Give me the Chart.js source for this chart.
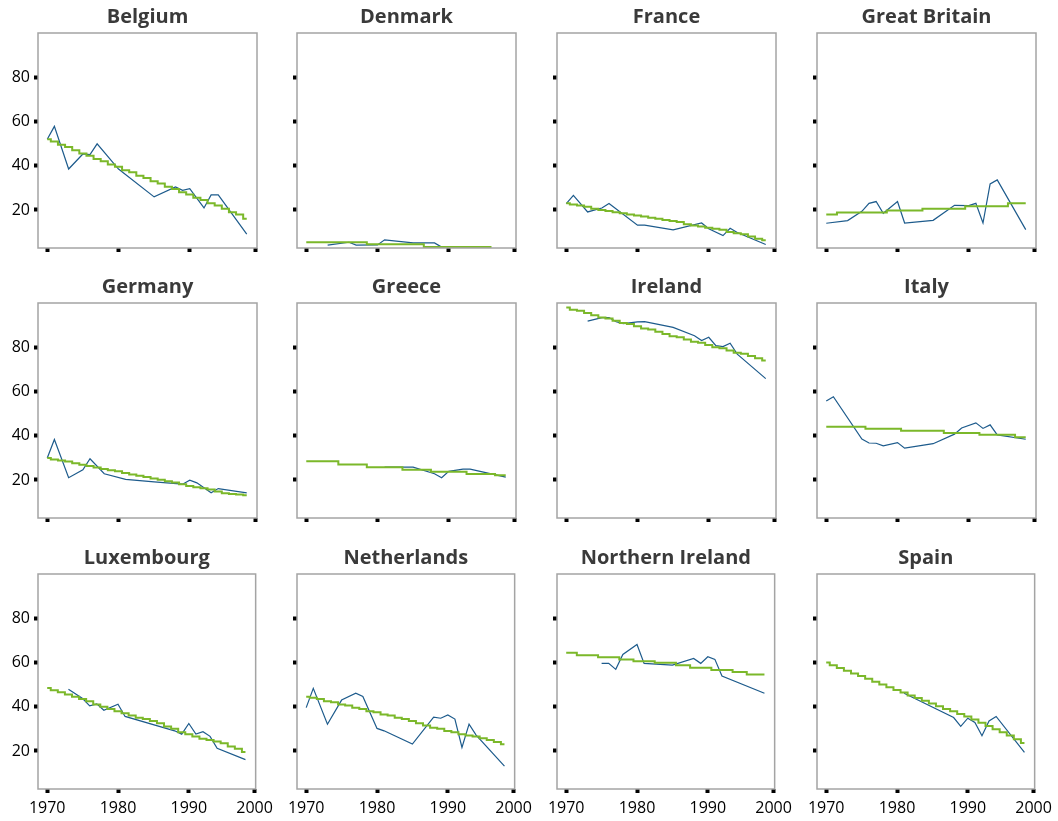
<!DOCTYPE html>
<html lang="en">
<head>
    <meta charset="UTF-8">
    <title>Small multiples by country, 1970-1998</title>
    <script src="https://cdn.jsdelivr.net/npm/chart.js"></script>
    <style>
        html, body {
            margin: 0;
            padding: 0;
            background: #fff;
        }
        #grid {
            position: relative;
            width: 1058px;
            height: 821px;
        }
        #grid canvas {
            position: absolute;
        }
    </style>
</head>
<body>
    <div id="grid"></div>

    <script>
        // survey years shared by all panels
        const years = [1970, 1971, 1972, 1973, 1974, 1975, 1976, 1977, 1978, 1979,
                       1980, 1981, 1982, 1983, 1984, 1985, 1986, 1987, 1988, 1989,
                       1990, 1991, 1992, 1993, 1994, 1995, 1996, 1997, 1998];

        const xTickYears = [1970, 1980, 1990, 2000];
        const xTickLabels = ['1970', '1980', '1990', '2000'];
        const yTickValues = [20, 40, 60, 80];

        const panelNames = ['Belgium', 'Denmark', 'France', 'Great Britain',
                            'Germany', 'Greece', 'Ireland', 'Italy',
                            'Luxembourg', 'Netherlands', 'Northern Ireland', 'Spain'];

        // observed values (blue), null = no survey that year
        const belgiumObs = [52, 57.8, null, 38.5, null, 45.3, 45, 49.9, null, null, 38.5, null, null, null, null, 25.9, null, null, 30.4, 28.9, 29.6, null, 20.9, 26.8, 26.8, null, null, null, 9.1];
        const denmarkObs = [null, null, null, 4.1, null, null, 5.4, 4.1, null, null, 4.2, 6.5, null, null, null, 5.1, null, null, 5.1, 3.2, 3, null, 2.5, 3.3, 3, null, null, null, null];
        const franceObs = [22.9, 26.6, null, 19.1, null, 20.9, 22.9, null, null, null, 13.1, 13.1, null, null, null, 11, null, null, null, 14.1, 11.5, null, 8.4, 11.7, 9.8, null, null, null, 4.4];
        const britainObs = [14, null, null, 15.2, null, 19.4, 23, 23.8, 18.5, null, 23.8, 14.1, null, null, null, 15.3, null, null, 22.1, null, 22, 23, 14.1, 31.8, 33.6, null, null, null, 11.1];
        const germanyObs = [29.9, 38.3, null, 21, null, 24.6, 29.6, null, 22.8, null, null, 20.3, null, null, null, 19.1, null, null, null, 18.1, 19.9, 18.7, null, 14.2, 16.1, null, null, null, 14.2];
        const greeceObs = [null, null, null, null, null, null, null, null, null, null, null, 25.8, null, null, null, 25.8, null, null, 22.8, 21, 23.9, null, 24.9, 24.9, null, null, null, null, 21.3];
        const irelandObs = [null, null, null, 91.8, null, 93.4, 93.4, 91.5, 90.7, null, 91.5, 91.6, null, null, null, 89, null, null, 85.2, 83, 84.5, 80.7, 80.3, 81.8, 76.9, null, null, null, 65.8];
        const italyObs = [55.7, 57.6, null, null, null, 38.5, 36.7, 36.6, 35.4, null, 36.9, 34.4, null, null, null, 36.4, null, null, 40.7, 43.5, null, 45.8, 43.3, 44.9, 40.4, null, null, null, 38.4];
        const luxembourgObs = [null, null, null, 47.9, null, 43.7, 40.4, 41.3, 38.4, null, 41.1, 35.6, null, null, null, null, null, null, 29.1, 27.6, 32.4, 27.6, 28.7, 26.6, 21.2, null, null, null, 16.1];
        const netherlandsObs = [39.6, 48.3, null, 32.1, null, 43, null, 46.1, 44.6, null, 30.2, 29.1, null, null, null, 23.1, null, null, 35.3, 34.8, 36.3, 34.4, 21.6, 32.1, 27.2, null, null, null, 13.1];
        const nIrelandObs = [null, null, null, null, null, 59.6, 59.6, 56.9, 63.6, null, 68.1, 59.6, null, null, null, 58.8, null, null, 61.8, 59.6, 62.6, 61.4, 53.9, null, null, null, null, null, 46.1];
        const spainObs = [null, null, null, null, null, null, null, null, null, null, null, 46.1, null, null, null, null, null, null, 35.1, 31.1, 34.8, 32.9, 26.9, 33.6, 35.6, null, null, null, 19.4];

        // fitted trend (green step line)
        const belgiumTrend = [52, 51, 49.5, 48.5, 47, 45.5, 44.5, 43, 42, 40.5, 39.5, 38, 37, 35.5, 34.5, 33, 32, 30.5, 29.5, 28, 27, 25.5, 24.5, 23, 22, 20.5, 19, 18, 16];
        const denmarkTrend = [5.4, 5.4, 5.4, 5.4, 5.4, 5.4, 5.4, 5.4, 5.4, 4.5, 4.5, 4.5, 4.5, 4.5, 4.5, 4.5, 4.5, 3.2, 3.2, 3.2, 3.2, 3.2, 3.2, 3.2, 3.2, 3.2, 3.2, null, null];
        const franceTrend = [23, 22.5, 22, 21.5, 20.5, 20, 19.5, 19, 18.5, 18, 17.5, 17, 16.5, 16, 15.5, 15, 14.5, 13.5, 13, 12.5, 12, 11.5, 11, 10, 9.5, 9, 8, 7, 6.3];
        const britainTrend = [17.9, 17.9, 18.9, 18.9, 18.9, 18.9, 18.9, 18.9, 18.9, 19.8, 19.8, 19.8, 19.8, 19.8, 20.6, 20.6, 20.6, 20.6, 20.6, 20.6, 21.7, 21.7, 21.7, 21.7, 21.7, 21.7, 23, 23, 23];
        const germanyTrend = [29.9, 29.3, 28.8, 28.3, 27.5, 26.9, 26.3, 25.6, 25, 24.4, 23.9, 23.2, 22.5, 21.9, 21.3, 20.7, 20.1, 19.4, 18.8, 18.1, 17.3, 16.7, 16.2, 15.7, 14.8, 14, 13.7, 13.4, 13.1];
        const greeceTrend = [28.4, 28.4, 28.4, 28.4, 28.4, 27, 27, 27, 27, 25.8, 25.8, 25.8, 25.8, 25.8, 24.6, 24.6, 24.6, 24.6, 23.7, 23.7, 23.7, 23.7, 23.7, 22.7, 22.7, 22.7, 22.7, 22.1, 22.1];
        const irelandTrend = [98, 97, 96.5, 95.5, 94.5, 93.5, 93, 92, 91, 90.5, 89.5, 88.5, 88, 87, 86, 85, 84.5, 83.5, 82.5, 82, 81, 80, 79.5, 78.5, 77.5, 77, 76, 75, 74];
        const italyTrend = [44, 44, 44, 44, 44, 44, 43.1, 43.1, 43.1, 43.1, 43.1, 42.2, 42.2, 42.2, 42.2, 42.2, 42.2, 41.2, 41.2, 41.2, 41.2, 41.2, 40.4, 40.4, 40.4, 40.4, 40.4, 39.3, 39.3];
        const luxembourgTrend = [48.5, 47.5, 46.5, 45.5, 44.5, 43.5, 42.5, 41, 40, 39, 38, 37, 36, 35, 34.5, 33.5, 32.5, 31, 30, 28.5, 27.5, 26.5, 25.5, 25, 24.3, 23.5, 22, 21, 19.5];
        const netherlandsTrend = [44.5, 44, 43.5, 42.5, 42, 41, 40.5, 39.5, 39, 38, 37.5, 36.5, 36, 35, 34.5, 33.5, 32.5, 31.5, 30.5, 30, 29, 28.5, 27.5, 27, 26.5, 25.8, 25, 24, 23];
        const nIrelandTrend = [64.4, 64.4, 63.3, 63.3, 63.3, 62.4, 62.4, 62.4, 61.4, 61.4, 60.6, 60.6, 60.6, 59.9, 59.9, 59.9, 58.7, 58.7, 57.6, 57.6, 57.6, 56.6, 56.6, 56.6, 55.7, 55.7, 54.6, 54.6, 54.6];
        const spainTrend = [60, 58.8, 57.5, 56.3, 55, 53.9, 52.6, 51.3, 50, 48.8, 47.6, 46.4, 45.1, 43.9, 42.7, 41.4, 40.2, 39, 37.9, 36.7, 35.6, 34.2, 32.7, 31.3, 29.8, 28.4, 27, 25.3, 23.6];

        const observedSeries = [belgiumObs, denmarkObs, franceObs, britainObs,
                                germanyObs, greeceObs, irelandObs, italyObs,
                                luxembourgObs, netherlandsObs, nIrelandObs, spainObs];
        const trendSeries = [belgiumTrend, denmarkTrend, franceTrend, britainTrend,
                             germanyTrend, greeceTrend, irelandTrend, italyTrend,
                             luxembourgTrend, netherlandsTrend, nIrelandTrend, spainTrend];

        // page layout of the 3 x 4 grid
        const colLeft = [0, 259, 519, 779];
        const rowTop = [0, 270, 541];
        const CANVAS_W = 279;
        const CANVAS_H = 278;

        Chart.defaults.font.family = "'Open Sans', 'DejaVu Sans', sans-serif";

        // grey box round each plot area
        const frame = {
            id: 'frame',
            afterDatasetsDraw(chart) {
                const { ctx, chartArea: a } = chart;
                ctx.save();
                ctx.strokeStyle = '#a4a4a4';
                ctx.lineWidth = 1.5;
                ctx.strokeRect(a.left, a.top, a.right - a.left, a.bottom - a.top);
                ctx.restore();
            }
        };

        function toPoints(values) {
            return years.map((yr, k) => ({ x: yr, y: values[k] }));
        }

        const grid = document.getElementById('grid');

        panelNames.forEach((name, i) => {
            const row = Math.floor(i / 4);
            const col = i % 4;

            const canvas = document.createElement('canvas');
            canvas.width = CANVAS_W;
            canvas.height = CANVAS_H;
            canvas.style.left = colLeft[col] + 'px';
            canvas.style.top = rowTop[row] + 'px';
            canvas.style.width = CANVAS_W + 'px';
            canvas.style.height = CANVAS_H + 'px';
            grid.appendChild(canvas);

            new Chart(canvas.getContext('2d'), {
                type: 'line',
                data: {
                    datasets: [
                        {
                            label: 'trend',
                            data: toPoints(trendSeries[i]),
                            borderColor: '#7bb82a',
                            borderWidth: 2,
                            stepped: 'middle',
                            pointRadius: 0,
                            fill: false
                        },
                        {
                            label: 'observed',
                            data: toPoints(observedSeries[i]),
                            borderColor: '#1d5b8c',
                            borderWidth: 1.2,
                            spanGaps: true,
                            tension: 0,
                            pointRadius: 0,
                            fill: false
                        }
                    ]
                },
                options: {
                    responsive: false,
                    animation: false,
                    events: [],
                    layout: {
                        padding: { left: 0, right: 22, top: 0, bottom: 0 }
                    },
                    scales: {
                        x: {
                            type: 'linear',
                            min: 1968.7,
                            max: 1999.44,
                            afterBuildTicks: function(scale) {
                                // the last tick sits on the frame edge, as in the original
                                scale.ticks = xTickYears.map(v => ({ value: Math.min(v, scale.max - 0.15) }));
                            },
                            afterFit: function(scale) {
                                scale.height = 30;
                            },
                            border: { display: false },
                            grid: {
                                drawOnChartArea: false,
                                drawTicks: true,
                                tickLength: 4,
                                tickWidth: 4,
                                tickColor: '#000'
                            },
                            ticks: {
                                display: row === 2,
                                autoSkip: false,
                                maxRotation: 0,
                                padding: 6,
                                color: '#000',
                                font: { size: 16 },
                                callback: function(value, index) {
                                    return xTickLabels[index];
                                }
                            }
                        },
                        y: {
                            min: 2.8,
                            max: 100,
                            afterBuildTicks: function(scale) {
                                scale.ticks = yTickValues.map(v => ({ value: v }));
                            },
                            afterFit: function(scale) {
                                scale.width = 38;
                            },
                            border: { display: false },
                            grid: {
                                drawOnChartArea: false,
                                drawTicks: true,
                                tickLength: 4,
                                tickWidth: 4,
                                tickColor: '#000'
                            },
                            ticks: {
                                display: col === 0,
                                padding: 4,
                                color: '#000',
                                font: { size: 16 },
                                callback: function(value) {
                                    return value;
                                }
                            }
                        }
                    },
                    plugins: {
                        legend: { display: false },
                        tooltip: { enabled: false },
                        title: {
                            display: true,
                            text: name,
                            fullSize: false,
                            color: '#3a3a3a',
                            font: { size: 20, weight: 'bold', lineHeight: 1.2 },
                            padding: { top: 5, bottom: 4 }
                        }
                    }
                },
                plugins: [frame]
            });
        });
    </script>
</body>
</html>
